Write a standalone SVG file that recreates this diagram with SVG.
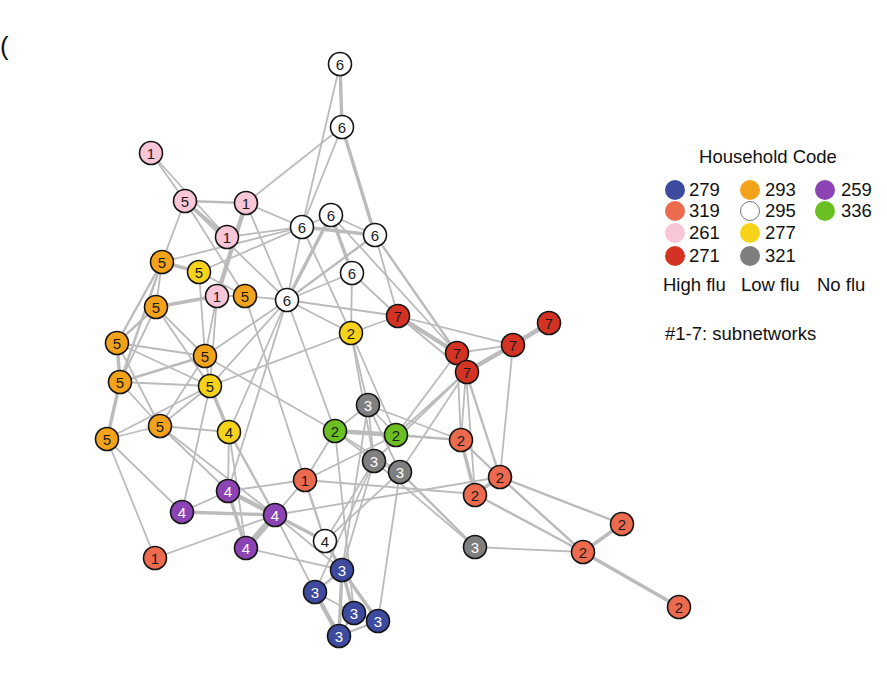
<svg xmlns="http://www.w3.org/2000/svg" width="887" height="675" viewBox="0 0 887 675">
<style>
.e{stroke:#bbbbbb;stroke-width:1.8;fill:none}
.w2{stroke-width:2.4}.w3{stroke-width:3.4}.w4{stroke-width:4.4}.w6{stroke-width:6.2}
.n circle{stroke:#151515;stroke-width:1.6}
.n text{font-family:"Liberation Sans",Arial,sans-serif;font-size:15px;text-anchor:middle;fill:#1a1a1a}
.n.dk text{fill:#fff}
.blue circle{fill:#3d4a9e}.sal circle{fill:#ec6a4e}.pink circle{fill:#f8c6d6}.red circle{fill:#d43323}
.org circle{fill:#f2a31b}.wht circle{fill:#fff}.yel circle{fill:#f6d21a}.gry circle{fill:#7f7f7f}
.pur circle{fill:#8c43b3}.grn circle{fill:#6cbf22}
.lg text{font-family:"Liberation Sans",Arial,sans-serif;font-size:18.5px;fill:#111}
</style>
<rect width="887" height="675" fill="#fff"/>
<text x="0" y="55" font-family="Liberation Sans,Arial,sans-serif" font-size="26" fill="#111">(</text>
<g id="edges">
<line class="e w3" x1="340" y1="64" x2="342" y2="127"/>
<line class="e" x1="340" y1="64" x2="302" y2="227"/>
<line class="e" x1="342" y1="127" x2="246" y2="203"/>
<line class="e" x1="342" y1="127" x2="302" y2="227"/>
<line class="e w3" x1="342" y1="127" x2="375" y2="235"/>
<line class="e" x1="151" y1="153" x2="185" y2="201"/>
<line class="e" x1="151" y1="153" x2="227" y2="237"/>
<line class="e w2" x1="185" y1="201" x2="246" y2="203"/>
<line class="e w3" x1="185" y1="201" x2="227" y2="237"/>
<line class="e" x1="185" y1="201" x2="245" y2="296"/>
<line class="e" x1="185" y1="201" x2="162" y2="262"/>
<line class="e" x1="185" y1="201" x2="287" y2="300"/>
<line class="e w4" x1="246" y1="203" x2="217" y2="296"/>
<line class="e" x1="246" y1="203" x2="302" y2="227"/>
<line class="e" x1="246" y1="203" x2="287" y2="300"/>
<line class="e" x1="227" y1="237" x2="302" y2="227"/>
<line class="e" x1="162" y1="262" x2="302" y2="227"/>
<line class="e" x1="199" y1="272" x2="302" y2="227"/>
<line class="e w3" x1="162" y1="262" x2="199" y2="272"/>
<line class="e" x1="199" y1="272" x2="245" y2="296"/>
<line class="e w3" x1="156" y1="307" x2="217" y2="296"/>
<line class="e" x1="217" y1="296" x2="245" y2="296"/>
<line class="e" x1="245" y1="296" x2="287" y2="300"/>
<line class="e" x1="302" y1="227" x2="331" y2="215"/>
<line class="e w3" x1="302" y1="227" x2="375" y2="235"/>
<line class="e w3" x1="331" y1="215" x2="352" y2="273"/>
<line class="e" x1="302" y1="227" x2="287" y2="300"/>
<line class="e w3" x1="331" y1="215" x2="287" y2="300"/>
<line class="e w2" x1="375" y1="235" x2="287" y2="300"/>
<line class="e" x1="352" y1="273" x2="287" y2="300"/>
<line class="e" x1="375" y1="235" x2="398" y2="316"/>
<line class="e" x1="352" y1="273" x2="398" y2="316"/>
<line class="e" x1="287" y1="300" x2="398" y2="316"/>
<line class="e" x1="287" y1="300" x2="351" y2="333"/>
<line class="e" x1="351" y1="333" x2="398" y2="316"/>
<line class="e" x1="352" y1="273" x2="351" y2="333"/>
<line class="e" x1="302" y1="227" x2="351" y2="333"/>
<line class="e w2" x1="375" y1="235" x2="457" y2="353"/>
<line class="e" x1="331" y1="215" x2="375" y2="235"/>
<line class="e" x1="331" y1="215" x2="457" y2="353"/>
<line class="e w2" x1="156" y1="307" x2="117" y2="343"/>
<line class="e" x1="156" y1="307" x2="205" y2="356"/>
<line class="e" x1="156" y1="307" x2="210" y2="386"/>
<line class="e" x1="156" y1="307" x2="120" y2="382"/>
<line class="e w3" x1="117" y1="343" x2="120" y2="382"/>
<line class="e w3" x1="120" y1="382" x2="107" y2="439"/>
<line class="e" x1="117" y1="343" x2="205" y2="356"/>
<line class="e" x1="117" y1="343" x2="210" y2="386"/>
<line class="e" x1="117" y1="343" x2="160" y2="426"/>
<line class="e w2" x1="162" y1="262" x2="117" y2="343"/>
<line class="e w2" x1="162" y1="262" x2="120" y2="382"/>
<line class="e w2" x1="120" y1="382" x2="205" y2="356"/>
<line class="e" x1="120" y1="382" x2="210" y2="386"/>
<line class="e" x1="120" y1="382" x2="160" y2="426"/>
<line class="e" x1="107" y1="439" x2="160" y2="426"/>
<line class="e" x1="107" y1="439" x2="210" y2="386"/>
<line class="e" x1="160" y1="426" x2="210" y2="386"/>
<line class="e" x1="160" y1="426" x2="229" y2="432"/>
<line class="e" x1="205" y1="356" x2="210" y2="386"/>
<line class="e" x1="205" y1="356" x2="217" y2="296"/>
<line class="e" x1="210" y1="386" x2="217" y2="296"/>
<line class="e w3" x1="210" y1="386" x2="229" y2="432"/>
<line class="e" x1="205" y1="356" x2="160" y2="426"/>
<line class="e" x1="210" y1="386" x2="287" y2="300"/>
<line class="e" x1="205" y1="356" x2="287" y2="300"/>
<line class="e" x1="107" y1="439" x2="182" y2="512"/>
<line class="e" x1="107" y1="439" x2="155" y2="558"/>
<line class="e" x1="162" y1="262" x2="156" y2="307"/>
<line class="e" x1="199" y1="272" x2="205" y2="356"/>
<line class="e" x1="160" y1="426" x2="275" y2="515"/>
<line class="e" x1="160" y1="426" x2="228" y2="491"/>
<line class="e" x1="210" y1="386" x2="182" y2="512"/>
<line class="e" x1="229" y1="432" x2="228" y2="491"/>
<line class="e" x1="229" y1="432" x2="246" y2="548"/>
<line class="e w2" x1="229" y1="432" x2="275" y2="515"/>
<line class="e w4" x1="228" y1="491" x2="275" y2="515"/>
<line class="e w3" x1="228" y1="491" x2="246" y2="548"/>
<line class="e w6" x1="275" y1="515" x2="246" y2="548"/>
<line class="e w3" x1="182" y1="512" x2="275" y2="515"/>
<line class="e" x1="182" y1="512" x2="228" y2="491"/>
<line class="e" x1="275" y1="515" x2="305" y2="480"/>
<line class="e" x1="228" y1="491" x2="305" y2="480"/>
<line class="e w3" x1="275" y1="515" x2="325" y2="541"/>
<line class="e" x1="275" y1="515" x2="342" y2="570"/>
<line class="e" x1="246" y1="548" x2="342" y2="570"/>
<line class="e" x1="275" y1="515" x2="315" y2="592"/>
<line class="e" x1="275" y1="515" x2="500" y2="477"/>
<line class="e" x1="305" y1="480" x2="475" y2="494"/>
<line class="e w2" x1="305" y1="480" x2="325" y2="541"/>
<line class="e" x1="305" y1="480" x2="335" y2="431"/>
<line class="e" x1="305" y1="480" x2="396" y2="435"/>
<line class="e" x1="155" y1="558" x2="275" y2="515"/>
<line class="e" x1="287" y1="300" x2="229" y2="432"/>
<line class="e" x1="287" y1="300" x2="228" y2="491"/>
<line class="e" x1="287" y1="300" x2="335" y2="431"/>
<line class="e" x1="245" y1="296" x2="305" y2="480"/>
<line class="e" x1="205" y1="356" x2="335" y2="431"/>
<line class="e" x1="210" y1="386" x2="351" y2="333"/>
<line class="e w4" x1="335" y1="431" x2="396" y2="435"/>
<line class="e" x1="335" y1="431" x2="368" y2="405"/>
<line class="e" x1="396" y1="435" x2="368" y2="405"/>
<line class="e w2" x1="396" y1="435" x2="461" y2="440"/>
<line class="e" x1="368" y1="405" x2="461" y2="440"/>
<line class="e" x1="368" y1="405" x2="374" y2="461"/>
<line class="e" x1="368" y1="405" x2="400" y2="472"/>
<line class="e" x1="335" y1="431" x2="374" y2="461"/>
<line class="e" x1="335" y1="431" x2="400" y2="472"/>
<line class="e" x1="374" y1="461" x2="400" y2="472"/>
<line class="e w2" x1="400" y1="472" x2="475" y2="547"/>
<line class="e" x1="374" y1="461" x2="475" y2="547"/>
<line class="e" x1="400" y1="472" x2="466" y2="372"/>
<line class="e" x1="396" y1="435" x2="466" y2="372"/>
<line class="e" x1="396" y1="435" x2="457" y2="353"/>
<line class="e" x1="400" y1="472" x2="378" y2="621"/>
<line class="e" x1="374" y1="461" x2="342" y2="570"/>
<line class="e" x1="374" y1="461" x2="325" y2="541"/>
<line class="e" x1="335" y1="431" x2="354" y2="613"/>
<line class="e" x1="368" y1="405" x2="342" y2="570"/>
<line class="e" x1="374" y1="461" x2="315" y2="592"/>
<line class="e w3" x1="325" y1="541" x2="342" y2="570"/>
<line class="e" x1="325" y1="541" x2="400" y2="472"/>
<line class="e" x1="351" y1="333" x2="368" y2="405"/>
<line class="e" x1="351" y1="333" x2="374" y2="461"/>
<line class="e" x1="351" y1="333" x2="396" y2="435"/>
<line class="e" x1="374" y1="461" x2="466" y2="372"/>
<line class="e w3" x1="461" y1="440" x2="475" y2="494"/>
<line class="e w2" x1="461" y1="440" x2="500" y2="477"/>
<line class="e w3" x1="500" y1="477" x2="475" y2="494"/>
<line class="e" x1="500" y1="477" x2="513" y2="345"/>
<line class="e" x1="461" y1="440" x2="466" y2="372"/>
<line class="e" x1="461" y1="440" x2="457" y2="353"/>
<line class="e w2" x1="500" y1="477" x2="466" y2="372"/>
<line class="e" x1="475" y1="494" x2="466" y2="372"/>
<line class="e w2" x1="500" y1="477" x2="583" y2="552"/>
<line class="e w2" x1="475" y1="494" x2="583" y2="552"/>
<line class="e w2" x1="500" y1="477" x2="622" y2="524"/>
<line class="e" x1="475" y1="547" x2="583" y2="552"/>
<line class="e w3" x1="583" y1="552" x2="622" y2="524"/>
<line class="e w3" x1="583" y1="552" x2="679" y2="607"/>
<line class="e w4" x1="398" y1="316" x2="457" y2="353"/>
<line class="e" x1="398" y1="316" x2="513" y2="345"/>
<line class="e" x1="457" y1="353" x2="513" y2="345"/>
<line class="e w4" x1="466" y1="372" x2="513" y2="345"/>
<line class="e w4" x1="513" y1="345" x2="549" y2="323"/>
<line class="e w2" x1="457" y1="353" x2="466" y2="372"/>
<line class="e" x1="398" y1="316" x2="466" y2="372"/>
<line class="e w2" x1="342" y1="570" x2="315" y2="592"/>
<line class="e w3" x1="342" y1="570" x2="354" y2="613"/>
<line class="e w3" x1="342" y1="570" x2="378" y2="621"/>
<line class="e w3" x1="342" y1="570" x2="339" y2="636"/>
<line class="e w4" x1="315" y1="592" x2="339" y2="636"/>
<line class="e" x1="315" y1="592" x2="354" y2="613"/>
<line class="e w3" x1="354" y1="613" x2="378" y2="621"/>
<line class="e w2" x1="339" y1="636" x2="378" y2="621"/>
<line class="e w2" x1="354" y1="613" x2="339" y2="636"/>
</g>
<g id="nodes">
<g id="n1" class="n wht"><circle cx="340" cy="64" r="11.5"/><text x="340" y="69.5">6</text></g>
<g id="n2" class="n wht"><circle cx="342" cy="127" r="11.5"/><text x="342" y="132.5">6</text></g>
<g id="n3" class="n pink"><circle cx="151" cy="153" r="11.5"/><text x="151" y="158.5">1</text></g>
<g id="n4" class="n pink"><circle cx="185" cy="201" r="11.5"/><text x="185" y="206.5">5</text></g>
<g id="n5" class="n pink"><circle cx="246" cy="203" r="11.5"/><text x="246" y="208.5">1</text></g>
<g id="n6" class="n pink"><circle cx="227" cy="237" r="11.5"/><text x="227" y="242.5">1</text></g>
<g id="n7" class="n wht"><circle cx="302" cy="227" r="11.5"/><text x="302" y="232.5">6</text></g>
<g id="n8" class="n wht"><circle cx="331" cy="215" r="11.5"/><text x="331" y="220.5">6</text></g>
<g id="n9" class="n wht"><circle cx="375" cy="235" r="11.5"/><text x="375" y="240.5">6</text></g>
<g id="n10" class="n wht"><circle cx="352" cy="273" r="11.5"/><text x="352" y="278.5">6</text></g>
<g id="n11" class="n wht"><circle cx="287" cy="300" r="11.5"/><text x="287" y="305.5">6</text></g>
<g id="n12" class="n org"><circle cx="162" cy="262" r="11.5"/><text x="162" y="267.5">5</text></g>
<g id="n13" class="n yel"><circle cx="199" cy="272" r="11.5"/><text x="199" y="277.5">5</text></g>
<g id="n14" class="n pink"><circle cx="217" cy="296" r="11.5"/><text x="217" y="301.5">1</text></g>
<g id="n15" class="n org"><circle cx="245" cy="296" r="11.5"/><text x="245" y="301.5">5</text></g>
<g id="n16" class="n org"><circle cx="156" cy="307" r="11.5"/><text x="156" y="312.5">5</text></g>
<g id="n17" class="n red"><circle cx="398" cy="316" r="11.5"/><text x="398" y="321.5">7</text></g>
<g id="n18" class="n yel"><circle cx="351" cy="333" r="11.5"/><text x="351" y="338.5">2</text></g>
<g id="n19" class="n red"><circle cx="549" cy="323" r="11.5"/><text x="549" y="328.5">7</text></g>
<g id="n20" class="n red"><circle cx="513" cy="345" r="11.5"/><text x="513" y="350.5">7</text></g>
<g id="n21" class="n red"><circle cx="457" cy="353" r="11.5"/><text x="457" y="358.5">7</text></g>
<g id="n22" class="n red"><circle cx="467" cy="372" r="11.5"/><text x="467" y="377.5">7</text></g>
<g id="n23" class="n org"><circle cx="117" cy="343" r="11.5"/><text x="117" y="348.5">5</text></g>
<g id="n24" class="n org"><circle cx="205" cy="356" r="11.5"/><text x="205" y="361.5">5</text></g>
<g id="n25" class="n org"><circle cx="120" cy="382" r="11.5"/><text x="120" y="387.5">5</text></g>
<g id="n26" class="n yel"><circle cx="210" cy="386" r="11.5"/><text x="210" y="391.5">5</text></g>
<g id="n27" class="n gry dk"><circle cx="368" cy="405" r="11.5"/><text x="368" y="410.5">3</text></g>
<g id="n28" class="n org"><circle cx="160" cy="426" r="11.5"/><text x="160" y="431.5">5</text></g>
<g id="n29" class="n yel"><circle cx="229" cy="432" r="11.5"/><text x="229" y="437.5">4</text></g>
<g id="n30" class="n org"><circle cx="107" cy="439" r="11.5"/><text x="107" y="444.5">5</text></g>
<g id="n31" class="n grn"><circle cx="335" cy="431" r="11.5"/><text x="335" y="436.5">2</text></g>
<g id="n32" class="n grn"><circle cx="396" cy="435" r="11.5"/><text x="396" y="440.5">2</text></g>
<g id="n33" class="n sal"><circle cx="461" cy="440" r="11.5"/><text x="461" y="445.5">2</text></g>
<g id="n34" class="n gry dk"><circle cx="374" cy="461" r="11.5"/><text x="374" y="466.5">3</text></g>
<g id="n35" class="n gry dk"><circle cx="400" cy="472" r="11.5"/><text x="400" y="477.5">3</text></g>
<g id="n36" class="n sal"><circle cx="305" cy="480" r="11.5"/><text x="305" y="485.5">1</text></g>
<g id="n37" class="n sal"><circle cx="500" cy="477" r="11.5"/><text x="500" y="482.5">2</text></g>
<g id="n38" class="n sal"><circle cx="475" cy="495" r="11.5"/><text x="475" y="500.5">2</text></g>
<g id="n39" class="n pur dk"><circle cx="228" cy="491" r="11.5"/><text x="228" y="496.5">4</text></g>
<g id="n40" class="n pur dk"><circle cx="182" cy="512" r="11.5"/><text x="182" y="517.5">4</text></g>
<g id="n41" class="n pur dk"><circle cx="275" cy="515" r="11.5"/><text x="275" y="520.5">4</text></g>
<g id="n42" class="n pur dk"><circle cx="246" cy="548" r="11.5"/><text x="246" y="553.5">4</text></g>
<g id="n43" class="n wht"><circle cx="325" cy="541" r="11.5"/><text x="325" y="546.5">4</text></g>
<g id="n44" class="n gry dk"><circle cx="475" cy="547" r="11.5"/><text x="475" y="552.5">3</text></g>
<g id="n45" class="n sal"><circle cx="622" cy="524" r="11.5"/><text x="622" y="529.5">2</text></g>
<g id="n46" class="n sal"><circle cx="583" cy="552" r="11.5"/><text x="583" y="557.5">2</text></g>
<g id="n47" class="n sal"><circle cx="155" cy="558" r="11.5"/><text x="155" y="563.5">1</text></g>
<g id="n48" class="n blue dk"><circle cx="342" cy="570" r="11.5"/><text x="342" y="575.5">3</text></g>
<g id="n49" class="n blue dk"><circle cx="315" cy="592" r="11.5"/><text x="315" y="597.5">3</text></g>
<g id="n50" class="n blue dk"><circle cx="354" cy="613" r="11.5"/><text x="354" y="618.5">3</text></g>
<g id="n51" class="n blue dk"><circle cx="378" cy="621" r="11.5"/><text x="378" y="626.5">3</text></g>
<g id="n52" class="n blue dk"><circle cx="339" cy="636" r="11.5"/><text x="339" y="641.5">3</text></g>
<g id="n53" class="n sal"><circle cx="679" cy="607" r="11.5"/><text x="679" y="612.5">2</text></g>
</g>
<g id="legend" class="lg">
<text x="768" y="163" text-anchor="middle" font-size="20.5">Household Code</text>
<circle cx="675" cy="190" r="10" fill="#3d4a9e"/><text x="689" y="196">279</text>
<circle cx="675" cy="211" r="10" fill="#ec6a4e"/><text x="689" y="217">319</text>
<circle cx="675" cy="233" r="10" fill="#f8c6d6"/><text x="689" y="239">261</text>
<circle cx="675" cy="256" r="10" fill="#d43323"/><text x="689" y="262">271</text>
<circle cx="750" cy="190" r="10" fill="#f2a31b"/><text x="765" y="196">293</text>
<circle cx="750" cy="211" r="9.5" fill="#fff" stroke="#777" stroke-width="1"/><text x="765" y="217">295</text>
<circle cx="750" cy="233" r="10" fill="#f6d21a"/><text x="765" y="239">277</text>
<circle cx="750" cy="256" r="10" fill="#7f7f7f"/><text x="765" y="262">321</text>
<circle cx="825" cy="190" r="10" fill="#8c43b3"/><text x="841" y="196">259</text>
<circle cx="825" cy="211" r="10" fill="#6cbf22"/><text x="841" y="217">336</text>
<text x="663" y="291">High flu</text>
<text x="741" y="291">Low flu</text>
<text x="817" y="291">No flu</text>
<text x="665" y="340" font-size="20.5">#1-7: subnetworks</text>
</g>
</svg>
